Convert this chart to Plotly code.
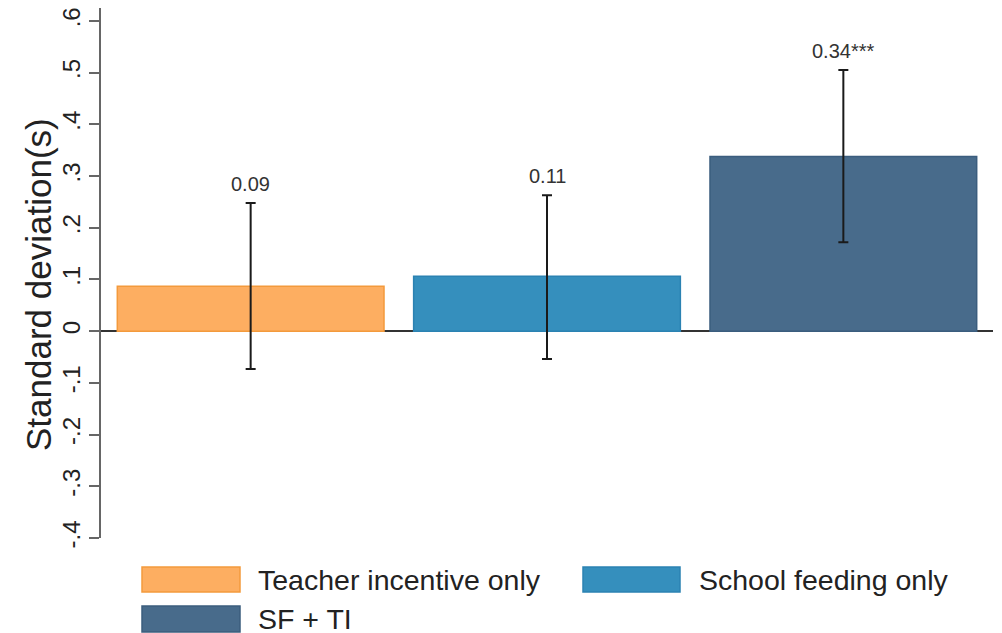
import plotly.graph_objects as go

categories = ["Teacher incentive only", "School feeding only", "SF + TI"]
estimates = [0.087, 0.106, 0.338]
ci_upper = [0.248, 0.263, 0.505]
ci_lower = [-0.073, -0.054, 0.172]
bar_labels = ["0.09", "0.11", "0.34***"]
ytick_vals = [-0.4, -0.3, -0.2, -0.1, 0, 0.1, 0.2, 0.3, 0.4, 0.5, 0.6]
ytick_text = ["-.4", "-.3", "-.2", "-.1", "0", ".1", ".2", ".3", ".4", ".5", ".6"]
y_title = "Standard deviation(s)"

fills = ["#FDAE61", "#358FBD", "#486B8B"]
borders = ["#F39A3C", "#2B82B2", "#3B5D7E"]

FONT = "Arial, Liberation Sans, sans-serif"

# page is rendered with an 8px body margin, so figure coords = page coords - 8
OFF = 8
W, H = 1002 - OFF, 633 - OFF
L, R, T, B = 101 - OFF, 9, 8 - OFF, 633 - 538

fig = go.Figure()
xpos = list(range(len(categories)))
for i, cat in enumerate(categories):
    fig.add_trace(go.Bar(
        x=[xpos[i]], y=[estimates[i]], name=cat, width=0.9,
        marker=dict(color=fills[i], line=dict(color=borders[i], width=1.5)),
        error_y=dict(type="data", symmetric=False,
                     array=[ci_upper[i] - estimates[i]],
                     arrayminus=[estimates[i] - ci_lower[i]],
                     color="#1a1a1a", thickness=2, width=5),
        showlegend=False,
    ))
    fig.add_annotation(x=xpos[i], y=ci_upper[i], text=bar_labels[i], showarrow=False,
                       yshift=19, font=dict(family=FONT, size=20, color="#333333"))

fig.update_layout(
    width=W, height=H,
    margin=dict(l=L, r=R, t=T, b=B, pad=0),
    paper_bgcolor="white", plot_bgcolor="white",
    font=dict(family=FONT, color="#222222"),
    bargap=0.1,
)
fig.update_xaxes(range=[-0.505, 2.505], showticklabels=False, showline=False,
                 showgrid=False, zeroline=False, ticks="")
fig.update_yaxes(range=[-0.4, 0.625], tickvals=ytick_vals, ticktext=ytick_text,
                 tickangle=-90, ticks="outside", ticklen=10, tickwidth=1.5, tickcolor="#666666",
                 tickfont=dict(family=FONT, size=24, color="#222222"),
                 ticklabeloverflow="allow",
                 showline=True, linecolor="#666666", linewidth=1.5,
                 showgrid=False, zeroline=True, zerolinecolor="#333333", zerolinewidth=1.5,
                 automargin=False)

# positions in page pixels -> paper coords
plot_w = 993 - 101
plot_h = 538 - 8
def px(xp):
    return (xp - 101) / plot_w
def py(yp):
    return (538 - yp) / plot_h

# y-axis title (placed like the reference, slightly below plot centre)
fig.add_annotation(xref="paper", yref="paper", x=px(38), y=py(285), text=y_title,
                   textangle=-90, showarrow=False, xanchor="center", yanchor="middle",
                   font=dict(family=FONT, size=35, color="#222222"))

# Legend drawn below the plot
legend_items = [
    (142, 240, 567, 592, 256, 580),
    (583, 680, 567, 592, 697, 580),
    (142, 240, 606, 632, 256, 619),
]
for i, (x0, x1, y0, y1, tx, ty) in enumerate(legend_items):
    fig.add_shape(type="rect", xref="paper", yref="paper",
                  x0=px(x0), x1=px(x1), y0=py(y1), y1=py(y0),
                  fillcolor=fills[i], line=dict(color=borders[i], width=1.5))
    fig.add_annotation(xref="paper", yref="paper", x=px(tx), y=py(ty),
                       xanchor="left", yanchor="middle", showarrow=False,
                       text=categories[i],
                       font=dict(family=FONT, size=28.5, color="#222222"))

fig.write_html("out.html")
